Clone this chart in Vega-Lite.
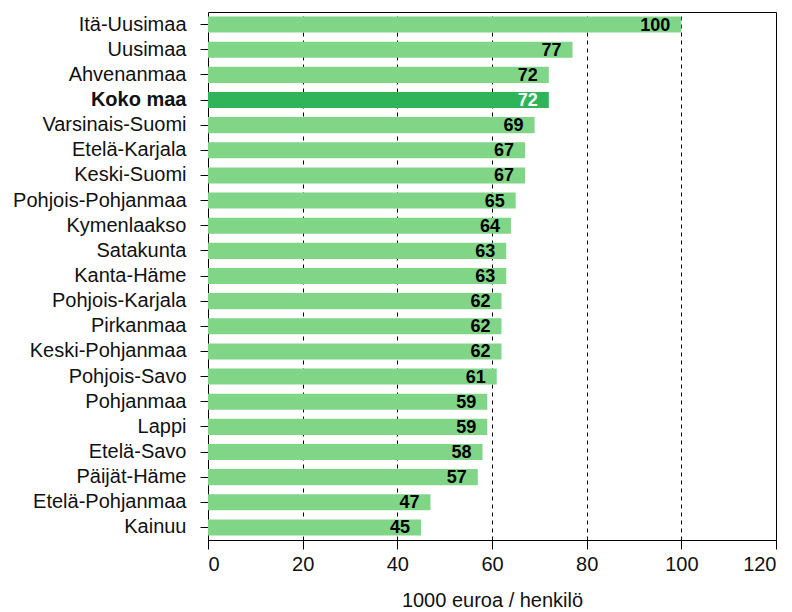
{
  "$schema": "https://vega.github.io/schema/vega-lite/v6.json",
  "width": 568,
  "height": 528,
  "autosize": "none",
  "padding": {"left": 208, "top": 12, "right": 16, "bottom": 72},
  "background": "white",
  "config": {
    "view": {"stroke": "black", "strokeWidth": 1},
    "font": "Liberation Sans"
  },
  "data": {
    "values": [
      {"region": "Itä-Uusimaa", "value": 100},
      {"region": "Uusimaa", "value": 77},
      {"region": "Ahvenanmaa\u00a0", "value": 72},
      {"region": "Koko maa", "value": 72},
      {"region": "Varsinais-Suomi", "value": 69},
      {"region": "Etelä-Karjala", "value": 67},
      {"region": "Keski-Suomi", "value": 67},
      {"region": "Pohjois-Pohjanmaa", "value": 65},
      {"region": "Kymenlaakso", "value": 64},
      {"region": "Satakunta", "value": 63},
      {"region": "Kanta-Häme", "value": 63},
      {"region": "Pohjois-Karjala", "value": 62},
      {"region": "Pirkanmaa", "value": 62},
      {"region": "Keski-Pohjanmaa", "value": 62},
      {"region": "Pohjois-Savo", "value": 61},
      {"region": "Pohjanmaa", "value": 59},
      {"region": "Lappi", "value": 59},
      {"region": "Etelä-Savo", "value": 58},
      {"region": "Päijät-Häme", "value": 57},
      {"region": "Etelä-Pohjanmaa", "value": 47},
      {"region": "Kainuu", "value": 45}
    ]
  },
  "encoding": {
    "y": {
      "field": "region",
      "type": "nominal",
      "sort": null,
      "scale": {"paddingInner": 0.36, "paddingOuter": 0.18},
      "axis": {
        "title": null,
        "domain": false,
        "tickColor": "black",
        "tickSize": 8,
        "labelPadding": 14,
        "labelFontSize": 20,
        "labelColor": "#111",
        "labelFontWeight": {"condition": {"test": "datum.value === 'Koko maa'", "value": "bold"}, "value": "normal"}
      }
    },
    "x": {
      "field": "value",
      "type": "quantitative",
      "scale": {"domain": [0, 120], "nice": false},
      "axis": {
        "values": [0, 20, 40, 60, 80, 100, 120],
        "title": "1000 euroa / henkilö",
        "titleFontSize": 20,
        "titleFontWeight": "normal",
        "titleColor": "#111",
        "titlePadding": 16,
        "domainColor": "black",
        "tickColor": "black",
        "tickSize": 9,
        "labelPadding": 5,
        "labelFontSize": 20,
        "labelColor": "#111",
        "grid": true,
        "gridColor": "black",
        "gridDash": [4, 4],
        "gridOpacity": {"condition": {"test": "datum.value === 0 || datum.value === 120", "value": 0}, "value": 1}
      }
    }
  },
  "layer": [
    {
      "mark": {"type": "bar"},
      "encoding": {
        "color": {
          "condition": {"test": "datum.region === 'Koko maa'", "value": "#30b45a"},
          "value": "#80d587"
        }
      }
    },
    {
      "mark": {"type": "text", "align": "right", "baseline": "middle", "dx": -11, "dy": 1, "fontSize": 18, "fontWeight": "bold", "font": "Liberation Sans"},
      "encoding": {
        "text": {"field": "value", "type": "quantitative"},
        "color": {
          "condition": {"test": "datum.region === 'Koko maa'", "value": "white"},
          "value": "black"
        }
      }
    }
  ]
}
